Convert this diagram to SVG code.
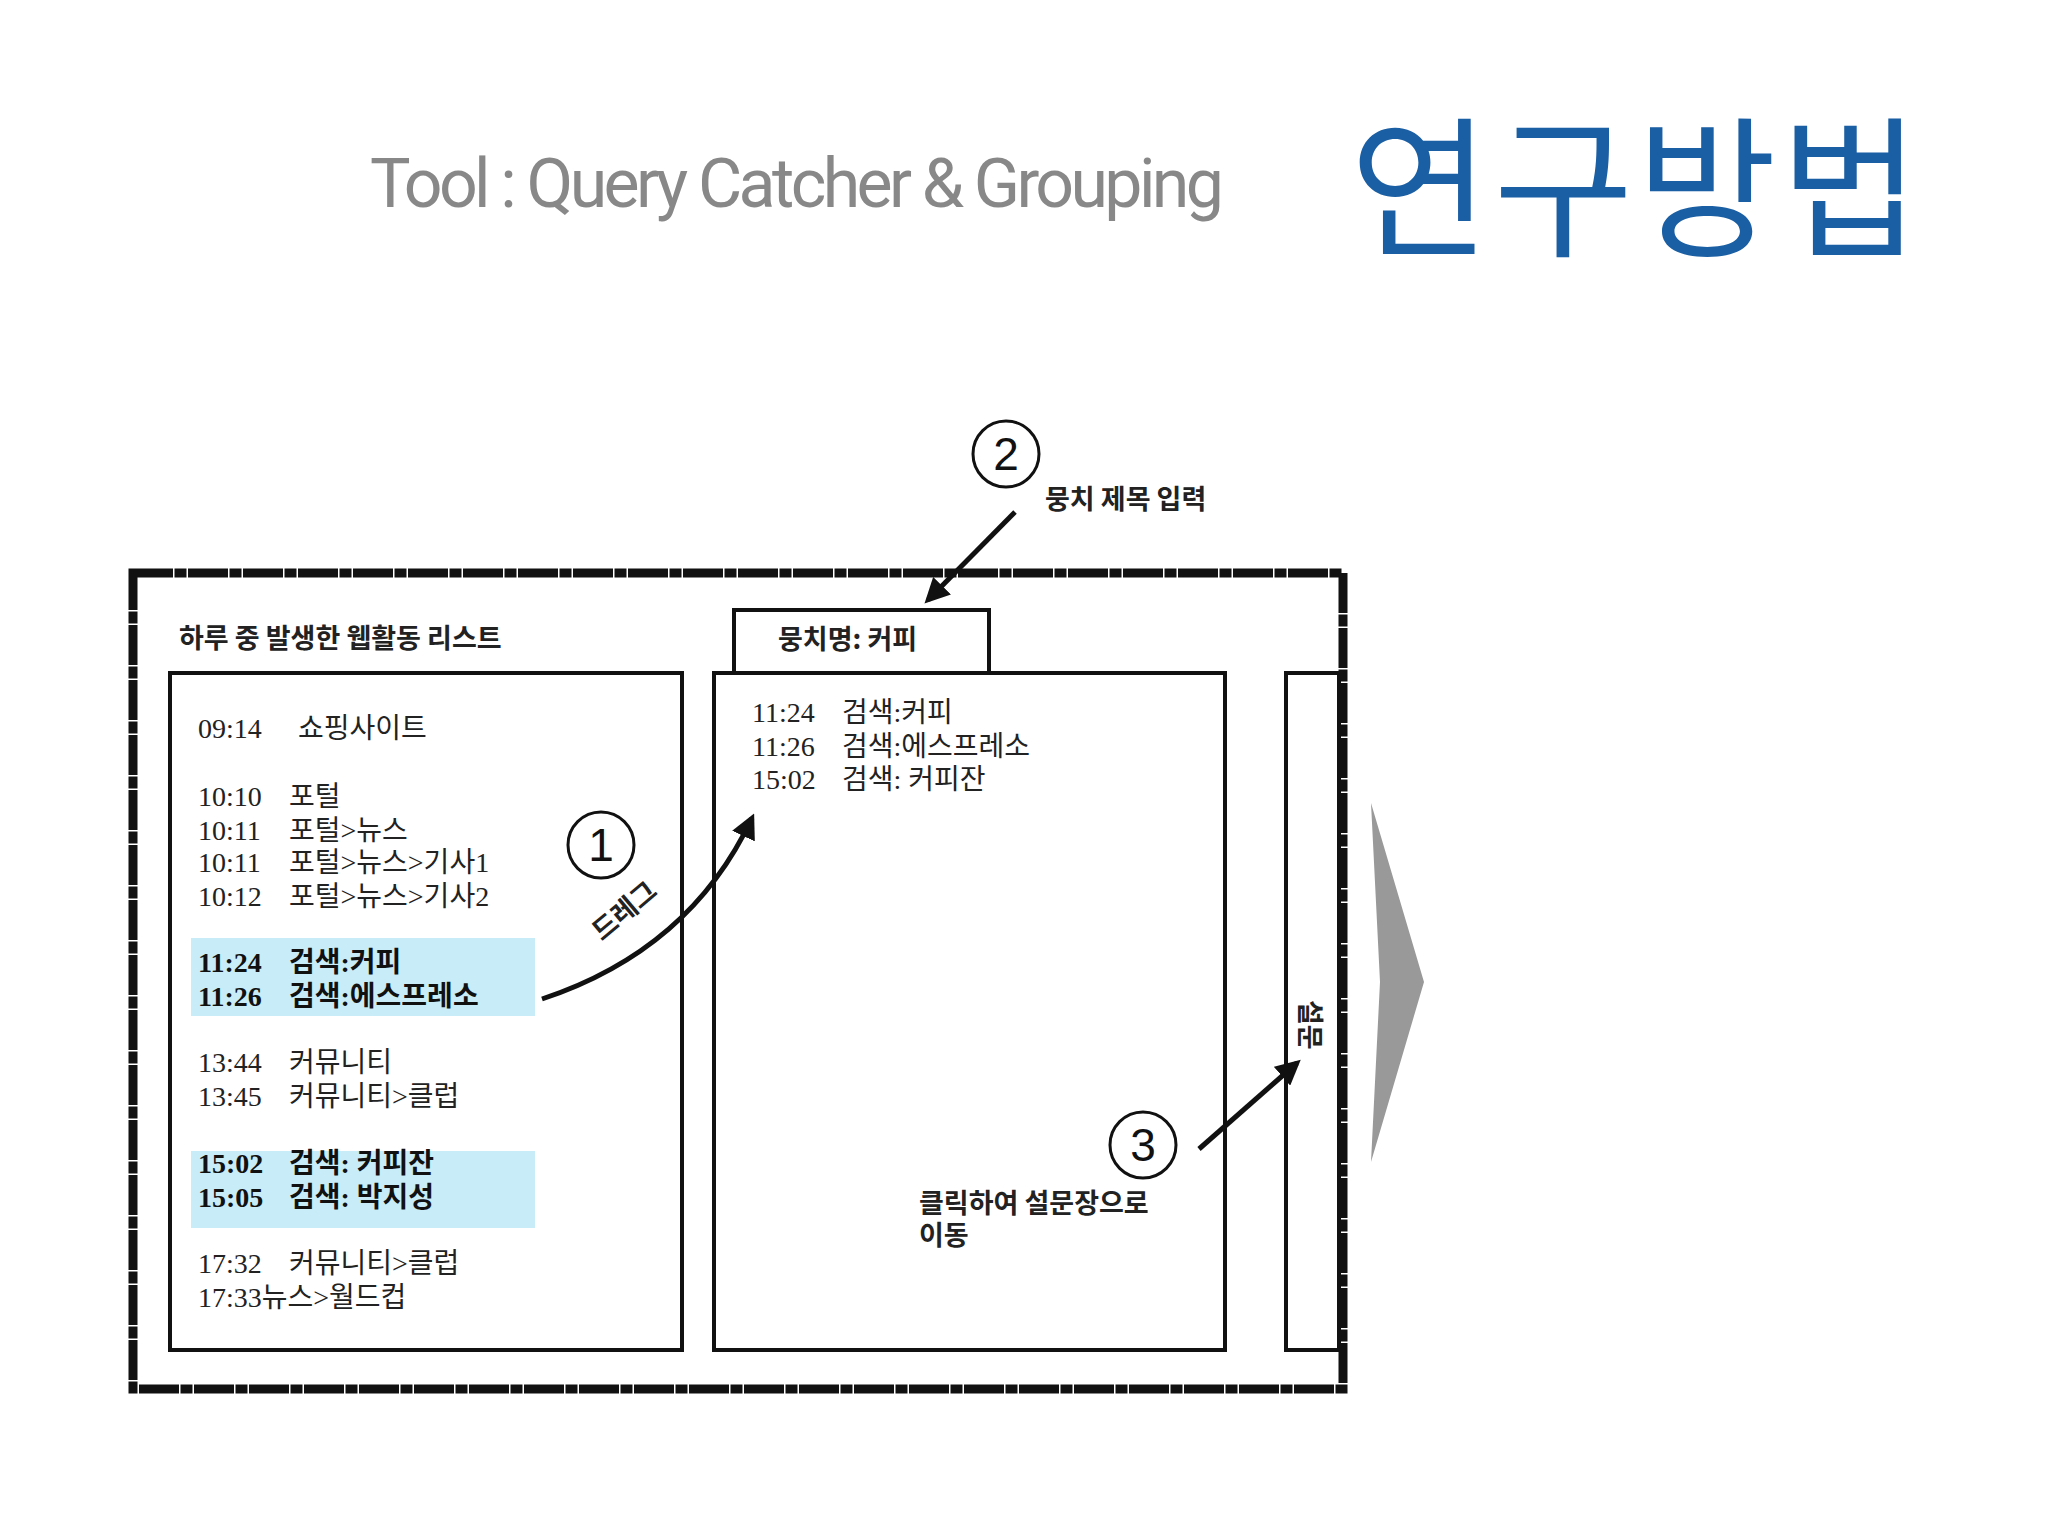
<svg xmlns="http://www.w3.org/2000/svg" width="2048" height="1536" viewBox="0 0 2048 1536">
<style>
.box{fill:#fff;stroke:#111;stroke-width:4}
.li{font-family:"Liberation Serif","Noto Sans CJK KR",serif;font-size:28px;fill:#222}
.lb{font-family:"Liberation Serif","Noto Sans CJK KR",serif;font-size:28px;fill:#111;font-weight:bold}
.k{font-family:"Noto Sans CJK KR",sans-serif;font-size:27px;fill:#222;font-weight:bold}
.arr{fill:none;stroke:#111;stroke-width:5}
.c{fill:#fff;stroke:#111;stroke-width:3}
.cn{font-family:"Liberation Sans",sans-serif;font-size:46px;fill:#111;text-anchor:middle}
</style>
<defs><marker id="ah" viewBox="0 0 10 10" refX="8" refY="5" markerWidth="5" markerHeight="5" orient="auto"><path d="M0,0 L10,5 L0,10 z" fill="#111"/></marker></defs>
<rect width="2048" height="1536" fill="#fff"/>
<text x="370" y="207" font-family="Roboto,'Liberation Sans',sans-serif" font-size="68" fill="#888" textLength="854">Tool : Query Catcher &amp; Grouping</text>
<text x="1350" y="245" font-family="'Noto Sans CJK KR',sans-serif" font-size="152" fill="#1a5ea3" textLength="570">연구방법</text>
<g id="frame"><rect x="133" y="573" width="1210" height="816" fill="none" stroke="#111" stroke-width="9" stroke-dasharray="40 1.5 12 1.5"/></g>
<g id="left">
<rect class="box" x="170" y="673" width="512" height="677"/>
<text x="179" y="648" class="k">하루 중 발생한 웹활동 리스트</text>
<rect x="191" y="938" width="344" height="78" fill="#c8ecf8"/>
<rect x="191" y="1151" width="344" height="77" fill="#c8ecf8"/>
<text class="li" x="198" y="738">09:14<tspan x="298">쇼핑사이트</tspan></text>
<text class="li" x="198" y="806">10:10<tspan x="289">포털</tspan></text>
<text class="li" x="198" y="840">10:11<tspan x="289">포털&gt;뉴스</tspan></text>
<text class="li" x="198" y="872">10:11<tspan x="289">포털&gt;뉴스&gt;기사1</tspan></text>
<text class="li" x="198" y="906">10:12<tspan x="289">포털&gt;뉴스&gt;기사2</tspan></text>
<text class="lb" x="198" y="972">11:24<tspan x="289">검색:커피</tspan></text>
<text class="lb" x="198" y="1006">11:26<tspan x="289">검색:에스프레소</tspan></text>
<text class="li" x="198" y="1072">13:44<tspan x="289">커뮤니티</tspan></text>
<text class="li" x="198" y="1106">13:45<tspan x="289">커뮤니티&gt;클럽</tspan></text>
<text class="lb" x="198" y="1173">15:02<tspan x="289">검색: 커피잔</tspan></text>
<text class="lb" x="198" y="1207">15:05<tspan x="289">검색: 박지성</tspan></text>
<text class="li" x="198" y="1273">17:32<tspan x="289">커뮤니티&gt;클럽</tspan></text>
<text class="li" x="198" y="1307">17:33뉴스&gt;월드컵</text>
</g>
<g id="middle">
<rect class="box" x="734" y="610" width="255" height="63"/>
<text x="778" y="649" class="k">뭉치명: 커피</text>
<rect class="box" x="714" y="673" width="511" height="677"/>
<text class="li" x="752" y="722">11:24<tspan x="842">검색:커피</tspan></text>
<text class="li" x="752" y="756">11:26<tspan x="842">검색:에스프레소</tspan></text>
<text class="li" x="752" y="789">15:02<tspan x="842">검색: 커피잔</tspan></text>
<text x="919" y="1213" class="k">클릭하여 설문장으로</text>
<text x="919" y="1245" class="k">이동</text>
</g>
<g id="right">
<rect class="box" x="1286" y="673" width="53" height="677"/>
<text x="1300" y="1000" class="k" font-size="24" transform="rotate(90 1300 1000)">설문</text>
</g>
<polygon id="next" points="1371,803 1424,982 1371,1162 1380,982" fill="#999"/>
<g id="connectors">
<path class="arr" d="M542,999 Q690,950 752,818" marker-end="url(#ah)"/>
<path class="arr" d="M1015,512 L928,600" marker-end="url(#ah)"/>
<path class="arr" d="M1199,1149 L1297,1063" marker-end="url(#ah)"/>
</g>
<g id="n1"><circle class="c" cx="601" cy="845" r="33"/><text class="cn" x="601" y="861">1</text>
<text x="602" y="942" class="k" font-size="24" transform="rotate(-40 602 942)">드레그</text></g>
<g id="n2"><circle class="c" cx="1006" cy="454" r="33"/><text class="cn" x="1006" y="470">2</text>
<text x="1045" y="509" class="k" font-size="26">뭉치 제목 입력</text></g>
<g id="n3"><circle class="c" cx="1143" cy="1145" r="33"/><text class="cn" x="1143" y="1161">3</text></g>
</svg>
